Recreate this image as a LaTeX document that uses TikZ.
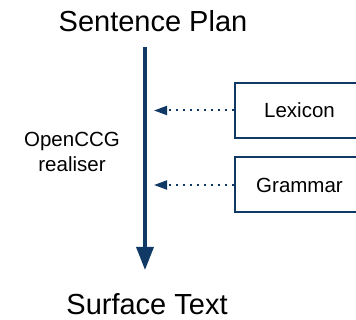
\documentclass[tikz,border=0pt]{standalone}
\usepackage{fontspec}
\setmainfont{Liberation Sans}
\usetikzlibrary{arrows.meta}
\usetikzlibrary{positioning}
\definecolor{flowblue}{RGB}{16,58,101}

\begin{document}
\begin{tikzpicture}[x=1pt, y=-1pt,
    big/.style = {font=\fontsize{29}{35}\selectfont, inner sep=0pt},
    small/.style = {font=\fontsize{20.5}{25}\selectfont, align=center, inner sep=0pt},
    resource/.style = {draw=flowblue, line width=2pt, minimum width=129pt,
                       minimum height=55pt, inner sep=0pt,
                       font=\fontsize{20.5}{25}\selectfont},
    spine/.style = {draw=flowblue, line width=3.5pt,
                    -{Triangle[length=23pt, width=17pt]}},
    feed/.style = {draw=flowblue, line width=2pt, dash pattern=on 2pt off 5pt,
                   -{Triangle[length=13pt, width=9pt]}, shorten >=9pt}]
      \clip (0, 0) rectangle (356, 320);
      \node [big, anchor=base] (plan) at (153, 32) {Sentence Plan};
      \node [big, anchor=base] (surface) at (147, 314) {Surface Text};
      \coordinate (start) at (145, 47);
      \coordinate (end) at (145, 270);
      \draw [spine] (start) -- (end);
      \node [small] (realiser) at (72, 152) {OpenCCG\\realiser};
      \node [resource] (lexicon) at (299.5, 110.5) {Lexicon};
      \node [resource] (grammar) at (299.5, 185) {Grammar};
      \draw [feed] (lexicon.west) -- (lexicon.west -| start);
      \draw [feed] (grammar.west) -- (grammar.west -| start);
    \end{tikzpicture}
\end{document}
